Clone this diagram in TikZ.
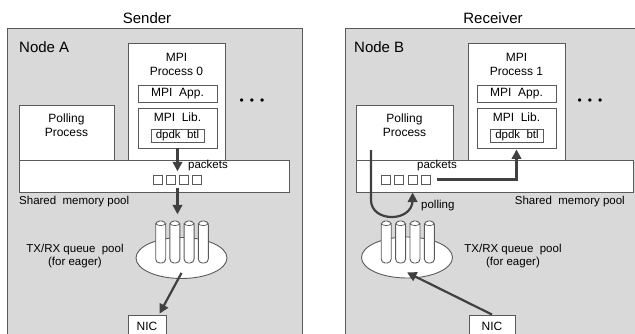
\documentclass[tikz,border=0pt]{standalone}
\usepackage{fontspec}
\setmainfont{Liberation Sans}
\usetikzlibrary{arrows.meta,fit,shapes.geometric}

\definecolor{panelgray}{RGB}{217,217,217}
\definecolor{edgegray}{RGB}{90,90,90}
\definecolor{arrowgray}{RGB}{64,64,64}

\tikzset{
  panel/.style={draw=edgegray, fill=panelgray, line width=0.9pt},
  blk/.style={draw=edgegray, fill=white, line width=0.9pt, inner sep=0pt},
  txt/.style={inner sep=0pt, align=center, font=\fontsize{12}{14}\selectfont},
  small/.style={inner sep=0pt, align=center, font=\fontsize{11.5}{12.5}\selectfont},
  title/.style={inner sep=0pt, font=\fontsize{15}{17}\selectfont},
  pkt/.style={blk, line width=1pt, minimum width=9pt, minimum height=9pt},
  tube/.style={blk, rounded corners=4pt, minimum width=10pt, minimum height=42pt},
  pool/.style={blk, ellipse, minimum width=91pt, minimum height=41pt},
  flow/.style={draw=arrowgray, line width=2.2pt, -{Triangle[length=9.5pt,width=9.5pt]}},
}

\begin{document}
\begin{tikzpicture}[x=1pt,y=-1pt]
\useasboundingbox (0,0) rectangle (635,333);
\clip (0,0) rectangle (635,333);

% the two hosts
\draw[panel] (7,28) rectangle (302,345);
\draw[panel] (345,28) rectangle (645,345);

\node[title] (sender) at (147,18) {Sender};
\node[title] (receiver) at (493,18) {Receiver};
\node[title, anchor=west] (hostA) at (19,47) {Node A};
\node[title, anchor=west] (hostB) at (354,47) {Node B};

% sender side
\node[blk, minimum width=97pt, minimum height=117pt] (procA) at (176.5,101.5) {};
\node[txt] (procAtxt) at (176.5,64) {MPI\\Process 0};
\node[blk, txt, minimum width=79pt, minimum height=17pt] (appA) at (177.5,93.5) {MPI\ \ App.};
\node[blk, minimum width=79pt, minimum height=40pt] (libA) at (177.5,128) {};
\node[txt] (libAtxt) at (177.5,117) {MPI\ \ Lib.};
\node[blk, small, minimum width=53pt, minimum height=13pt] (btlA) at (177.5,135.5) {dpdk\ \ btl};
\node[txt] (dotsA) at (252,102) {\textbullet\hspace{6pt}\textbullet\hspace{6pt}\textbullet};
\node[blk, minimum width=95pt, minimum height=55pt] (pollA) at (66.5,132.5) {};
\node[txt] (pollAtxt) at (66.5,125.5) {Polling\\Process};

\node[blk, minimum width=270pt, minimum height=32pt] (shmA) at (154,176) {};
\node[small] (pktsAtxt) at (208,166) {packets};
\foreach \i in {1,...,4}
  \node[pkt] (pa\i) at (145+13*\i,179.5) {};
\node[fit=(pa1)(pa4), inner sep=0pt] (pktA) {};
\node[small, anchor=west] (shmAtxt) at (19,202) {Shared\ \ memory pool};

\node[pool] (poolA) at (181.5,258) {};
\foreach \i in {1,...,4} {
  \node[tube] (ta\i) at (146.5+14.2*\i,242) {};
  \draw[edgegray, line width=0.7pt] ([yshift=-3pt]ta\i.north west) to[bend right=40] ([yshift=-3pt]ta\i.north east);
}
\node[fit=(ta1)(ta4), inner sep=0pt] (tubesA) {};
\node[small] (qAtxt) at (75,256) {TX/RX queue\ \ pool\\(for eager)};
\node[blk, txt, minimum width=38pt, minimum height=22pt] (nicA) at (147,326) {NIC};

\draw[flow, shorten >=3pt] (libA.south) -- (libA.south |- pktA.north);
\draw[flow, shorten <=3pt, shorten >=6pt] (pktA.south) -- (pktA.south |- tubesA.north);
\draw[flow, shorten >=1pt] ([yshift=6pt]poolA.south) -- ([xshift=12pt]nicA.north);

% receiver side
\node[blk, minimum width=97pt, minimum height=117pt] (procB) at (516.5,101.5) {};
\node[txt] (procBtxt) at (516.5,64) {MPI\\Process 1};
\node[blk, txt, minimum width=79pt, minimum height=17pt] (appB) at (516.5,93.5) {MPI\ \ App.};
\node[blk, minimum width=79pt, minimum height=40pt] (libB) at (516.5,128) {};
\node[txt] (libBtxt) at (516.5,117) {MPI\ \ Lib.};
\node[blk, small, minimum width=53pt, minimum height=13pt] (btlB) at (517,135.5) {dpdk\ \ btl};
\node[txt] (dotsB) at (590,102) {\textbullet\hspace{6pt}\textbullet\hspace{6pt}\textbullet};
\node[blk, minimum width=97pt, minimum height=55pt] (pollB) at (404.5,132.5) {};
\node[txt] (pollBtxt) at (404.5,125.5) {Polling\\Process};

\node[blk, minimum width=277pt, minimum height=32pt] (shmB) at (494.5,176) {};
\node[small] (pktsBtxt) at (437,166) {packets};
\foreach \i in {1,...,4}
  \node[pkt] (pb\i) at (372.7+13.3*\i,179.5) {};
\node[fit=(pb1)(pb4), inner sep=0pt] (pktB) {};
\node[small, anchor=east] (shmBtxt) at (625,202) {Shared\ \ memory pool};

\node[pool] (poolB) at (407,257.5) {};
\foreach \i in {1,...,4} {
  \node[tube] (tb\i) at (371.8+14.4*\i,242) {};
  \draw[edgegray, line width=0.7pt] ([yshift=-3pt]tb\i.north west) to[bend right=40] ([yshift=-3pt]tb\i.north east);
}
\node[small] (qBtxt) at (513,256) {TX/RX queue\ \ pool\\(for eager)};
\node[blk, txt, minimum width=46pt, minimum height=22pt] (nicB) at (492,326) {NIC};
\node[small, anchor=west] (pollingtxt) at (421,206) {polling};

\coordinate (pollgo) at (371,150);
\draw[flow, shorten >=1pt] ([xshift=6pt]pktB.east) -| (libB.south);
\draw[flow, shorten >=8pt] (pollgo) -- ++(0,50) coordinate (turnB)
  to[out=-90, in=-90, looseness=1.4] (turnB -| pb3.south) -- (pb3.south);
\draw[flow] (nicB.north) -- ([yshift=6pt]poolB.south);
\end{tikzpicture}
\end{document}
